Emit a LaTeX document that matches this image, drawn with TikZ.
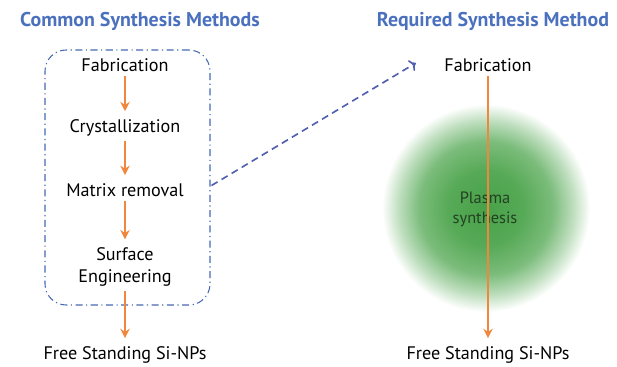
\documentclass[tikz,border=0pt]{standalone}
\usepackage{fontspec}
\setmainfont{PT Sans}
\usetikzlibrary{arrows.meta,fit,calc}
\definecolor{titleblue}{RGB}{74,112,190}
\definecolor{boxblue}{RGB}{70,105,180}
\definecolor{linkblue}{RGB}{80,95,175}
\definecolor{steporange}{RGB}{240,135,60}
\definecolor{glowgreen}{RGB}{72,162,72}
\definecolor{plasmatext}{RGB}{35,65,35}
\pgfdeclareradialshading{plasmaglow}{\pgfpoint{0bp}{0bp}}{color(0bp)=(glowgreen); color(9bp)=(glowgreen!92!white); color(16bp)=(glowgreen!72!white); color(21bp)=(glowgreen!35!white); color(25bp)=(white); color(50bp)=(white)}
\tikzset{
  heading/.style={text=titleblue, font=\bfseries\fontsize{17}{19}\selectfont},
  stage/.style={font=\fontsize{15.5}{18.5}\selectfont, align=center, inner sep=2pt},
  flow/.style={draw=steporange, line width=1.4pt, -{Stealth[length=8pt,width=8pt]}, shorten <=2pt, shorten >=5pt},
}
\begin{document}
\begin{tikzpicture}[x=0.03cm, y=-0.03cm]
\useasboundingbox (0,0) rectangle (617,367);

\shade[shading=plasmaglow] (486,208) circle (104);

\node[heading] (lefttitle) at (140,21) {Common Synthesis Methods};
\node[heading] (righttitle) at (493,21) {Required Synthesis Method};

\node[stage] (fab1) at (125,65) {Fabrication};
\node[stage] (cryst) at (125,128) {Crystallization};
\node[stage] (matrix) at (125,190) {Matrix removal};
\node[stage] (surface) at (125,267) {Surface\\Engineering};
\node[stage] (free1) at (125,355) {Free Standing Si-NPs};

\node[draw=boxblue, line width=0.9pt, rounded corners=18pt,
      dash pattern=on 6pt off 3pt on 1pt off 3pt,
      fit={(45,50) (210,305)}, inner sep=0pt] (box) {};

\draw[flow] (fab1) -- (cryst);
\draw[flow] (cryst) -- (matrix);
\draw[flow] (matrix) -- (surface);
\draw[flow] (surface) -- (free1);

\node[stage, text=plasmatext, font=\fontsize{14}{17}\selectfont] (plasma) at (485,209) {Plasma\\synthesis};
\node[stage] (fab2) at (488,65) {Fabrication};
\node[stage] (free2) at (488,355) {Free Standing Si-NPs};

\draw[flow] (fab2) -- (free2);

\coordinate (dashend) at ($(fab2.west)+(-26,-2)$);
\draw[linkblue, line width=1.4pt, dash pattern=on 6pt off 4pt, -{To[length=5pt]}] ($(box.east)+(1,8)$) -- (dashend);
\end{tikzpicture}
\end{document}
